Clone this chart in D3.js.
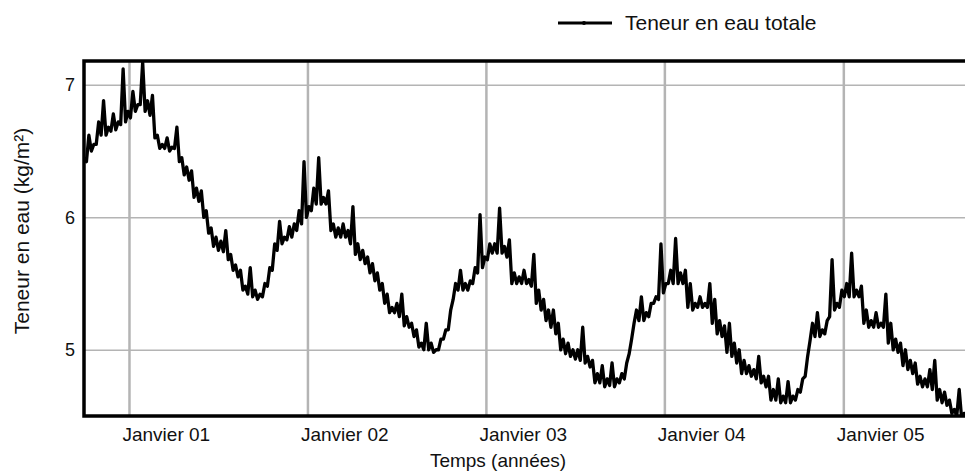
<!DOCTYPE html>
<html>
<head>
<meta charset="utf-8">
<script src="https://cdn.jsdelivr.net/npm/d3@7"></script>
<style>
  body { margin: 0; background: #fff; }
  text { font-family: 'Liberation Sans', Arial, sans-serif; fill: #111; }
  .grid line { stroke: #b4b4b4; }
  .grid path { display: none; }
</style>
</head>
<body>
<svg width="965" height="472"></svg>
<script>
// total water content, one window every 10 days from 1 Oct 2000
// waterHigh = top of the noisy trace at the start of each window,
// waterLow = bottom of the trace in the middle of the window
const startDate = '2000-10-01';
const stepDays = 10;
const waterHigh = [
  6.45, 6.62, 6.55, 6.72, 6.88, 6.68, 6.78, 6.72, 7.12, 6.8,
  6.95, 6.85, 7.17, 6.88, 6.92, 6.62, 6.55, 6.6, 6.53, 6.68,
  6.45, 6.38, 6.35, 6.22, 6.2, 6.05, 5.92, 5.85, 5.82, 5.9,
  5.72, 5.64, 5.6, 5.48, 5.62, 5.45, 5.42, 5.5, 5.62, 5.8,
  5.97, 5.85, 5.93, 5.95, 6.05, 6.42, 6.08, 6.22, 6.45, 6.15,
  6.2, 5.95, 5.92, 5.95, 5.9, 6.08, 5.8, 5.75, 5.7, 5.65,
  5.58, 5.5, 5.42, 5.32, 5.35, 5.42, 5.25, 5.2, 5.15, 5.05,
  5.2, 5.05, 5.0, 5.08, 5.15, 5.3, 5.5, 5.6, 5.5, 5.52,
  5.62, 6.02, 5.7, 5.8, 5.8, 6.07, 5.78, 5.83, 5.58, 5.55,
  5.6, 5.53, 5.72, 5.45, 5.38, 5.3, 5.3, 5.2, 5.08, 5.05,
  5.0, 5.0, 5.17, 4.95, 4.92, 4.82, 4.88, 4.78, 4.9, 4.78,
  4.82, 4.9, 5.08, 5.3, 5.4, 5.28, 5.35, 5.4, 5.8, 5.5,
  5.6, 5.84, 5.58, 5.6, 5.5, 5.35, 5.4, 5.35, 5.5, 5.38,
  5.22, 5.18, 5.2, 5.05, 5.0, 4.92, 4.88, 4.85, 4.95, 4.8,
  4.8, 4.7, 4.78, 4.65, 4.76, 4.65, 4.7, 4.78, 4.95, 5.2,
  5.28, 5.15, 5.22, 5.68, 5.35, 5.45, 5.5, 5.73, 5.45, 5.48,
  5.3, 5.22, 5.28, 5.2, 5.42, 5.2, 5.08, 5.05, 5.0, 4.92,
  4.9, 4.8, 4.78, 4.85, 4.92, 4.7, 4.68, 4.62, 4.55, 4.7,
  4.52, 4.5
];
const waterLow = [
  6.42, 6.5, 6.55, 6.62, 6.62, 6.65, 6.66, 6.7, 6.72, 6.75,
  6.8, 6.85, 6.8, 6.77, 6.6, 6.52, 6.52, 6.5, 6.52, 6.42,
  6.32, 6.28, 6.15, 6.12, 6.0, 5.88, 5.78, 5.75, 5.74, 5.68,
  5.6, 5.55, 5.45, 5.42, 5.4, 5.38, 5.4, 5.48, 5.6, 5.75,
  5.8, 5.83, 5.85, 5.9, 5.95, 6.0, 6.05, 6.1, 6.1, 6.1,
  5.9, 5.85, 5.85, 5.85, 5.8, 5.72, 5.68, 5.65, 5.58, 5.52,
  5.45, 5.35, 5.28, 5.28, 5.25, 5.18, 5.17, 5.1, 5.02, 5.0,
  5.0, 4.98, 5.0, 5.08, 5.15, 5.38, 5.45, 5.45, 5.45, 5.5,
  5.58, 5.62, 5.68, 5.73, 5.73, 5.73, 5.7, 5.5, 5.5, 5.5,
  5.5, 5.48, 5.35, 5.3, 5.22, 5.17, 5.12, 5.0, 4.97, 4.95,
  4.93, 4.92, 4.9, 4.87, 4.75, 4.75, 4.72, 4.73, 4.72, 4.75,
  4.78, 4.97, 5.2, 5.22, 5.22, 5.25, 5.35, 5.38, 5.43, 5.5,
  5.5, 5.5, 5.5, 5.32, 5.3, 5.32, 5.32, 5.32, 5.2, 5.12,
  5.1, 4.98, 4.95, 4.9, 4.82, 4.82, 4.8, 4.78, 4.75, 4.72,
  4.62, 4.62, 4.6, 4.6, 4.6, 4.62, 4.68, 4.8, 5.07, 5.1,
  5.1, 5.12, 5.25, 5.3, 5.32, 5.4, 5.4, 5.4, 5.4, 5.2,
  5.17, 5.17, 5.17, 5.17, 5.05, 5.0, 4.98, 4.88, 4.85, 4.82,
  4.74, 4.72, 4.72, 4.7, 4.62, 4.6, 4.58, 4.52, 4.5, 4.48,
  4.48
];
const yTicks = [5, 6, 7];
const xTickYears = [2001, 2002, 2003, 2004, 2005];
const xTickLabels = ['Janvier 01', 'Janvier 02', 'Janvier 03', 'Janvier 04', 'Janvier 05'];
const seriesName = 'Teneur en eau totale';

const svg = d3.select('svg'),
  margin = { top: 61, right: -3, bottom: 56, left: 84 },
  width = +svg.attr('width') - margin.left - margin.right,
  height = +svg.attr('height') - margin.top - margin.bottom;

const parse = d3.utcParse('%Y-%m-%d');
const t0 = parse(startDate);

// walk the trace: top of window i, then bottom half a window later
const data = [];
waterHigh.forEach((v, i) => {
  data.push({ date: d3.utcDay.offset(t0, i * stepDays), value: v });
  if (i < waterLow.length) {
    data.push({ date: d3.utcDay.offset(t0, i * stepDays + stepDays / 2), value: waterLow[i] });
  }
});

const x = d3.scaleUtc()
  .domain([t0, parse('2005-09-13')])
  .range([0, width]);
const y = d3.scaleLinear().domain([4.5, 7.18]).range([height, 0]);

const g = svg.append('g').attr('transform', `translate(${margin.left}, ${margin.top})`);

svg.append('defs').append('clipPath').attr('id', 'clip')
  .append('rect').attr('width', width).attr('height', height);

// horizontal grid
g.append('g')
  .attr('class', 'grid')
  .call(d3.axisLeft(y).tickValues(yTicks).tickSize(-width).tickFormat(''))
  .selectAll('line').attr('stroke-width', 1.5);

// vertical grid
const tickDates = xTickYears.map((yr) => new Date(Date.UTC(yr, 0, 1)));
g.append('g')
  .attr('class', 'grid')
  .attr('transform', `translate(0, ${height})`)
  .call(d3.axisBottom(x).tickValues(tickDates).tickSize(-height).tickFormat(''))
  .selectAll('line').attr('stroke-width', 2.5).attr('stroke', '#ababab');

// the series
const line = d3.line().x((d) => x(d.date)).y((d) => y(d.value));
g.append('path')
  .datum(data)
  .attr('clip-path', 'url(#clip)')
  .attr('fill', 'none')
  .attr('stroke', '#000')
  .attr('stroke-width', 3.3)
  .attr('stroke-linejoin', 'round')
  .attr('d', line);

// frame
g.append('rect')
  .attr('width', width)
  .attr('height', height)
  .attr('fill', 'none')
  .attr('stroke', '#000')
  .attr('stroke-width', 3.5);

// y tick labels
g.append('g')
  .call(d3.axisLeft(y).tickValues(yTicks).tickSize(0).tickPadding(9).tickFormat(d3.format('d')))
  .call((a) => a.select('.domain').remove())
  .selectAll('text')
  .attr('font-size', 18)
  .attr('font-family', 'Liberation Sans, Arial, sans-serif');

// x tick labels
g.append('g')
  .attr('transform', `translate(0, ${height})`)
  .call(d3.axisBottom(x).tickValues(tickDates).tickSize(0).tickPadding(12)
    .tickFormat((d, i) => xTickLabels[i]))
  .call((a) => a.select('.domain').remove())
  .selectAll('text')
  .attr('font-size', 19)
  .attr('text-anchor', 'start')
  .attr('dx', -7)
  .attr('font-family', 'Liberation Sans, Arial, sans-serif');

// axis titles
svg.append('text')
  .attr('transform', 'translate(29, 231) rotate(-90)')
  .attr('text-anchor', 'middle')
  .attr('font-size', 21)
  .text('Teneur en eau (kg/m²)');

svg.append('text')
  .attr('x', 498)
  .attr('y', 467)
  .attr('text-anchor', 'middle')
  .attr('font-size', 19)
  .text('Temps (années)');

// legend
const lg = svg.append('g').attr('transform', 'translate(558, 23)');
lg.append('line').attr('x1', 0).attr('x2', 54).attr('stroke', '#000').attr('stroke-width', 3);
lg.append('circle').attr('cx', 26).attr('r', 2).attr('fill', '#000');
lg.append('text').attr('x', 67).attr('y', 7).attr('font-size', 21).text(seriesName);
</script>
</body>
</html>
